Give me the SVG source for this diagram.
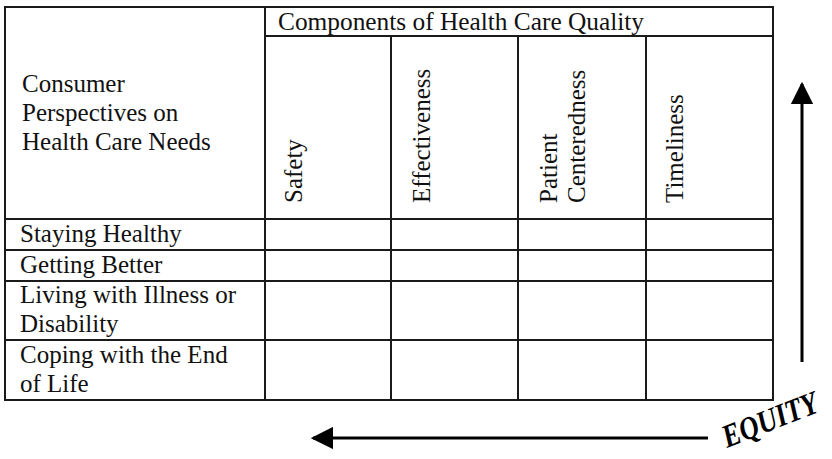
<svg xmlns="http://www.w3.org/2000/svg" width="832" height="459" viewBox="0 0 832 459">
  <style>
    .t { font-family: "Liberation Serif", "Times New Roman", "DejaVu Serif", serif; font-size: 25px; fill: #111; }
    .grid { stroke: #1a1a1a; stroke-width: 2; fill: none; }
    .arrow { stroke: #000; stroke-width: 3; fill: none; }
    .eq { font-family: "Liberation Serif", "Times New Roman", "DejaVu Serif", serif; font-size: 27px; font-weight: bold; font-style: italic; fill: #000; }
  </style>
  <defs>
    <marker id="ah" viewBox="0 0 10 10" refX="9" refY="5" markerWidth="7.5" markerHeight="7.5" markerUnits="strokeWidth" orient="auto">
      <path d="M0,0 L10,5 L0,10 Z" fill="#000"/>
    </marker>
  </defs>
  <rect width="832" height="459" fill="#fff"/>

  <g id="table">
    <rect class="grid" x="5" y="7" width="768" height="393"/>
    <line class="grid" x1="265" y1="36" x2="773" y2="36"/>
    <line class="grid" x1="265" y1="7" x2="265" y2="400"/>
    <line class="grid" x1="391" y1="36" x2="391" y2="400"/>
    <line class="grid" x1="518" y1="36" x2="518" y2="400"/>
    <line class="grid" x1="646" y1="36" x2="646" y2="400"/>
    <line class="grid" x1="5" y1="219" x2="773" y2="219"/>
    <line class="grid" x1="5" y1="250" x2="773" y2="250"/>
    <line class="grid" x1="5" y1="281" x2="773" y2="281"/>
    <line class="grid" x1="5" y1="340" x2="773" y2="340"/>
  </g>

  <g id="header-components">
    <text class="t" x="278" y="30" textLength="366" lengthAdjust="spacingAndGlyphs">Components of Health Care Quality</text>
  </g>
  <g id="header-consumer">
    <text class="t" x="22" y="92">Consumer</text>
    <text class="t" x="22" y="121">Perspectives on</text>
    <text class="t" x="22" y="150">Health Care Needs</text>
  </g>
  <g id="col-safety">
    <text class="t" transform="translate(302,203) rotate(-90)">Safety</text>
  </g>
  <g id="col-effectiveness">
    <text class="t" transform="translate(430,203) rotate(-90)">Effectiveness</text>
  </g>
  <g id="col-patient">
    <text class="t" transform="translate(557,203) rotate(-90)">Patient</text>
    <text class="t" transform="translate(585,203) rotate(-90)">Centeredness</text>
  </g>
  <g id="col-timeliness">
    <text class="t" transform="translate(683,203) rotate(-90)">Timeliness</text>
  </g>

  <g id="row-staying">
    <text class="t" x="20" y="242">Staying Healthy</text>
  </g>
  <g id="row-getting">
    <text class="t" x="20" y="273">Getting Better</text>
  </g>
  <g id="row-living">
    <text class="t" x="20" y="303">Living with Illness or</text>
    <text class="t" x="20" y="332">Disability</text>
  </g>
  <g id="row-coping">
    <text class="t" x="20" y="363">Coping with the End</text>
    <text class="t" x="20" y="392">of Life</text>
  </g>

  <g id="connectors">
    <line class="arrow" x1="802" y1="362" x2="802" y2="84" marker-end="url(#ah)"/>
    <line class="arrow" x1="708" y1="438" x2="313" y2="438" marker-end="url(#ah)"/>
  </g>

  <g id="equity">
    <text class="eq" transform="translate(727,448) rotate(-21.5) scale(1,1.2)">EQUITY</text>
  </g>
</svg>
